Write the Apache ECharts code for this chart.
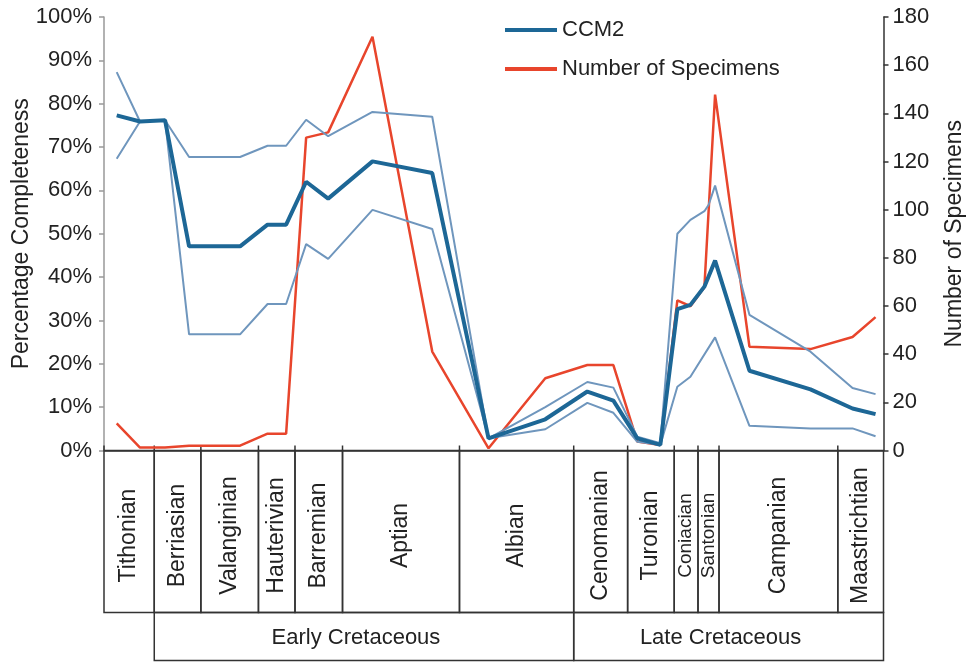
<!DOCTYPE html>
<html>
<head>
<meta charset="utf-8">
<script src="https://cdn.jsdelivr.net/npm/echarts@6/dist/echarts.min.js"></script>
<style>
  html, body { margin: 0; padding: 0; background: #fff; }
  #chart { width: 966px; height: 664px; }
</style>
</head>
<body>
<div id="chart"></div>
<script>
// Sample ages (Ma) shared by all series
const ages = [149.41, 146.86, 144.12, 141.49, 135.91, 132.90, 130.87, 128.68, 126.27, 121.42,
              114.88, 108.72, 102.51, 97.91, 95.06, 92.44, 89.92, 88.06, 86.63, 85.10,
              84.63, 83.93, 80.17, 73.49, 68.89, 66.37];

// Character completeness (%) with its upper and lower bounds
const ccm2  = [77.3, 75.9, 76.2, 47.1, 47.1, 52.1, 52.1, 62.0, 58.1, 66.7,
               64.0, 2.8, 7.2, 13.6, 11.5, 2.8, 1.3, 32.6, 33.6, 37.8,
               null, 43.8, 18.4, 14.1, 9.7, 8.4];
const upper = [87.3, 75.9, 76.2, 67.7, 67.7, 70.3, 70.3, 76.3, 72.5, 78.1,
               77.0, 2.8, 10.0, 15.8, 14.5, 3.2, 1.7, 50.0, 53.2, 55.2,
               56.7, 61.1, 31.3, 22.8, 14.4, 13.0];
const lower = [67.3, 75.9, 76.2, 26.8, 26.8, 33.8, 33.8, 47.6, 44.2, 55.5,
               51.1, 2.8, 4.9, 11.0, 8.7, 2.0, 1.3, 14.7, 17.0, null,
               null, 26.1, 5.7, 5.1, 5.1, 3.3];

// Number of specimens
const specimens = [11.3, 1.2, 1.2, 2.0, 2.0, 7.0, 7.0, 129.9, 132.1, 171.8,
                   41.1, 0.9, 30.0, 35.5, 35.5, 3.7, 2.3, 62.3, 59.9, 67.8,
                   null, 147.8, 43.1, 42.1, 47.1, 55.4];

// Stage boundaries (Ma) and names
const stageBounds = [150.8, 145.3, 140.2, 133.9, 129.9, 124.7, 111.9, 99.4, 93.5, 88.4, 85.8, 83.5, 70.5, 65.5];
const stageNames = ['Tithonian', 'Berriasian', 'Valanginian', 'Hauterivian', 'Barremian', 'Aptian', 'Albian',
                    'Cenomanian', 'Turonian', 'Coniacian', 'Santonian', 'Campanian', 'Maastrichtian'];
const smallStages = ['Coniacian', 'Santonian'];

// Epoch boundaries (Ma) and names
const epochBounds = [145.3, 99.4, 65.5];
const epochNames = ['Early Cretaceous', 'Late Cretaceous'];

// Axis ticks
const pctTicks = { min: 0, max: 100, step: 10 };
const countTicks = { min: 0, max: 180, step: 20 };

const FONT = '"Liberation Sans", Arial, Helvetica, sans-serif';
const INK = '#222';
const BOX = '#333';
const STAGE_ROW = 162;
const EPOCH_ROW = 48;

const pairs = vals => ages.map((a, i) => [a, vals[i]]);

const stageData = stageNames.map((n, i) => [stageBounds[i], stageBounds[i + 1]]);
const epochData = epochNames.map((n, i) => [epochBounds[i], epochBounds[i + 1]]);

function renderStage(params, api) {
  const a = api.coord([api.value(0), 0]);
  const b = api.coord([api.value(1), 0]);
  const y0 = a[1];
  const x0 = Math.min(a[0], b[0]);
  const w = Math.abs(b[0] - a[0]);
  const name = stageNames[params.dataIndex];
  const small = smallStages.indexOf(name) >= 0;
  return {
    type: 'group',
    children: [
      { type: 'rect', shape: { x: x0, y: y0, width: w, height: STAGE_ROW },
        style: { fill: 'none', stroke: BOX, lineWidth: 1.5 } },
      { type: 'line', shape: { x1: a[0], y1: y0 - 5, x2: a[0], y2: y0 },
        style: { stroke: BOX, lineWidth: 1.5 } },
      { type: 'text', x: x0 + w / 2, y: y0 + STAGE_ROW / 2 + 4, rotation: Math.PI / 2,
        style: { text: name, fontFamily: FONT, fontSize: small ? 19 : 23, fill: INK,
                 align: 'center', verticalAlign: 'middle' } }
    ]
  };
}

function renderEpoch(params, api) {
  const a = api.coord([api.value(0), 0]);
  const b = api.coord([api.value(1), 0]);
  const y0 = a[1] + STAGE_ROW;
  const x0 = Math.min(a[0], b[0]);
  const w = Math.abs(b[0] - a[0]);
  return {
    type: 'group',
    children: [
      { type: 'rect', shape: { x: x0, y: y0, width: w, height: EPOCH_ROW },
        style: { fill: 'none', stroke: BOX, lineWidth: 1.5 } },
      { type: 'text', x: x0 + w / 2 - 8, y: y0 + EPOCH_ROW / 2 + 1,
        style: { text: epochNames[params.dataIndex], fontFamily: FONT, fontSize: 22, fill: INK,
                 align: 'center', verticalAlign: 'middle' } }
    ]
  };
}

const chart = echarts.init(document.getElementById('chart'), null, { renderer: 'canvas' });

chart.setOption({
  animation: false,
  backgroundColor: '#fff',
  textStyle: { fontFamily: FONT },
  grid: { left: 104, right: 82.5, top: 17, bottom: 213.5, containLabel: false, outerBoundsMode: 'none' },
  legend: {
    data: ['CCM2', 'Number of Specimens'],
    orient: 'vertical',
    left: 500,
    top: 12,
    icon: 'rect',
    itemWidth: 52,
    itemHeight: 4,
    itemGap: 13,
    textStyle: { fontFamily: FONT, fontSize: 22, color: INK, lineHeight: 26, padding: [0, 0, 0, 0] }
  },
  xAxis: {
    type: 'value',
    min: 65.5,
    max: 150.8,
    inverse: true,
    axisLine: { show: true, lineStyle: { color: BOX, width: 1.5 } },
    axisTick: { show: false },
    axisLabel: { show: false },
    splitLine: { show: false }
  },
  yAxis: [
    {
      type: 'value',
      min: pctTicks.min, max: pctTicks.max, interval: pctTicks.step,
      name: 'Percentage Completeness',
      nameLocation: 'middle',
      nameRotate: 90,
      nameGap: 71,
      nameMoveOverlap: false,
      nameTextStyle: { fontFamily: FONT, fontSize: 23, color: INK },
      axisLine: { show: true, lineStyle: { color: '#999', width: 1.5 } },
      axisTick: { show: true, length: 5, lineStyle: { color: '#999', width: 1.5 } },
      axisLabel: { formatter: '{value}%', fontFamily: FONT, fontSize: 22, color: INK, margin: 12 },
      splitLine: { show: false }
    },
    {
      type: 'value',
      position: 'right',
      min: countTicks.min, max: countTicks.max, interval: countTicks.step,
      name: 'Number of Specimens',
      nameLocation: 'middle',
      nameRotate: 90,
      nameGap: 60,
      nameMoveOverlap: false,
      nameTextStyle: { fontFamily: FONT, fontSize: 23, color: INK },
      axisLine: { show: true, lineStyle: { color: BOX, width: 1.5 } },
      axisTick: { show: true, length: 5, lineStyle: { color: BOX, width: 1.5 } },
      axisLabel: { fontFamily: FONT, fontSize: 22, color: INK, margin: 9 },
      splitLine: { show: false }
    }
  ],
  series: [
    {
      name: 'Number of Specimens', type: 'line', yAxisIndex: 1,
      data: pairs(specimens), connectNulls: true, symbol: 'none',
      color: '#e8452c', lineStyle: { color: '#e8452c', width: 2.5 }, z: 2
    },
    {
      name: 'CCM2 upper', type: 'line', yAxisIndex: 0,
      data: pairs(upper), connectNulls: true, symbol: 'none',
      lineStyle: { color: '#6f96bd', width: 2 }, z: 3
    },
    {
      name: 'CCM2 lower', type: 'line', yAxisIndex: 0,
      data: pairs(lower), connectNulls: true, symbol: 'none',
      lineStyle: { color: '#6f96bd', width: 2 }, z: 3
    },
    {
      name: 'CCM2', type: 'line', yAxisIndex: 0,
      data: pairs(ccm2), connectNulls: true, symbol: 'none',
      color: '#1d6796', lineStyle: { color: '#1d6796', width: 4 }, z: 4
    },
    {
      name: 'stages', type: 'custom', yAxisIndex: 0, clip: false, silent: true,
      encode: { x: [0, 1] }, data: stageData, renderItem: renderStage, z: 1
    },
    {
      name: 'epochs', type: 'custom', yAxisIndex: 0, clip: false, silent: true,
      encode: { x: [0, 1] }, data: epochData, renderItem: renderEpoch, z: 1
    }
  ]
});
</script>
</body>
</html>
